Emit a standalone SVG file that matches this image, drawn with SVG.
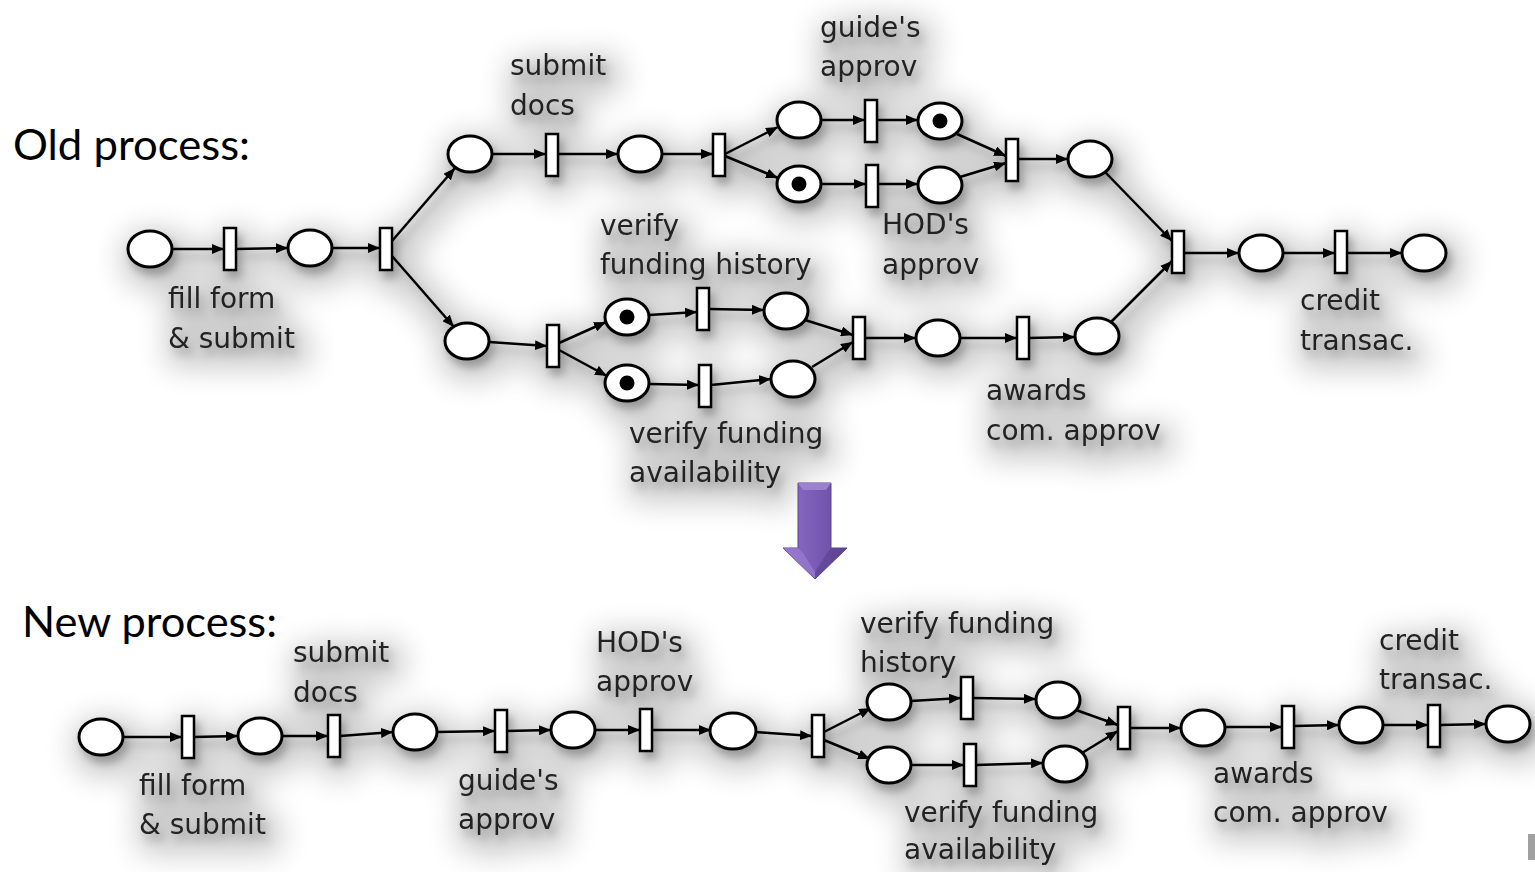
<svg xmlns="http://www.w3.org/2000/svg" width="1535" height="872" viewBox="0 0 1535 872">
  <defs>
    <marker id="ah" markerUnits="userSpaceOnUse" markerWidth="13" markerHeight="10" refX="12" refY="5" orient="auto">
      <path d="M0,0 L12,5 L0,10 z" fill="#000"/>
    </marker>
    <!-- soft grey drop haze under each net -->
    <filter id="soft" x="-5%" y="-30%" width="112%" height="160%">
      <feGaussianBlur in="SourceAlpha" stdDeviation="4" result="b1"/>
      <feOffset in="b1" dx="4" dy="7" result="o1"/>
      <feComponentTransfer in="o1" result="s1">
        <feFuncA type="linear" slope="0.25"/>
      </feComponentTransfer>
      <feMorphology in="SourceAlpha" operator="dilate" radius="9" result="d2"/>
      <feGaussianBlur in="d2" stdDeviation="15" result="b2"/>
      <feOffset in="b2" dx="6" dy="10" result="o2"/>
      <feComponentTransfer in="o2" result="s2">
        <feFuncA type="linear" slope="0.22"/>
      </feComponentTransfer>
      <feMerge>
        <feMergeNode in="s2"/>
        <feMergeNode in="s1"/>
        <feMergeNode in="SourceGraphic"/>
      </feMerge>
    </filter>
    <linearGradient id="purple" x1="0" y1="0" x2="1" y2="0">
      <stop offset="0" stop-color="#8f70c9"/>
      <stop offset="0.5" stop-color="#7a5bb5"/>
      <stop offset="1" stop-color="#6a4b9f"/>
    </linearGradient>
    <style>
      .pl { fill: #fff; stroke: #000; stroke-width: 3; }
      .tr { fill: #fff; stroke: #000; stroke-width: 2.5; }
      .tk { fill: #000; }
      .arc { stroke: #000; stroke-width: 2.5; fill: none; marker-end: url(#ah); }
      .lbl { font-family: "DejaVu Sans", Verdana, sans-serif; font-size: 28px; fill: #222; }
      .head { font-family: Lato, "Liberation Sans", sans-serif; font-size: 42px; fill: #000; }
    </style>
  </defs>

  <rect width="1535" height="872" fill="#fff"/>

  <text class="head" x="13" y="160" textLength="237" lengthAdjust="spacingAndGlyphs">Old process:</text>
  <text class="head" x="22" y="637" textLength="255" lengthAdjust="spacingAndGlyphs">New process:</text>

  <!-- ===================== OLD PROCESS ===================== -->
  <g id="old-process" filter="url(#soft)">
    <g id="old-connectors">
      <line class="arc" x1="172" y1="249" x2="224" y2="249"/>
      <line class="arc" x1="236" y1="249" x2="288" y2="248"/>
      <line class="arc" x1="332" y1="248" x2="380" y2="248"/>
      <line class="arc" x1="392" y1="241" x2="455" y2="168"/>
      <line class="arc" x1="392" y1="256" x2="454" y2="327"/>
      <line class="arc" x1="492" y1="154" x2="546" y2="154"/>
      <line class="arc" x1="558" y1="154" x2="618" y2="154"/>
      <line class="arc" x1="662" y1="154" x2="713" y2="154"/>
      <line class="arc" x1="725" y1="154" x2="778" y2="127"/>
      <line class="arc" x1="725" y1="156" x2="778" y2="178"/>
      <line class="arc" x1="821" y1="120" x2="865" y2="120"/>
      <line class="arc" x1="877" y1="120" x2="918" y2="120"/>
      <line class="arc" x1="821" y1="184" x2="866" y2="184"/>
      <line class="arc" x1="878" y1="184" x2="918" y2="184"/>
      <line class="arc" x1="957" y1="134" x2="1006" y2="156"/>
      <line class="arc" x1="960" y1="177" x2="1006" y2="163"/>
      <line class="arc" x1="1018" y1="159" x2="1068" y2="159"/>
      <line class="arc" x1="1105" y1="172" x2="1172" y2="241"/>
      <line class="arc" x1="489" y1="342" x2="547" y2="346"/>
      <line class="arc" x1="559" y1="343" x2="606" y2="322"/>
      <line class="arc" x1="559" y1="350" x2="607" y2="376"/>
      <line class="arc" x1="649" y1="315" x2="697" y2="312"/>
      <line class="arc" x1="709" y1="309" x2="764" y2="310"/>
      <line class="arc" x1="649" y1="384" x2="699" y2="385"/>
      <line class="arc" x1="711" y1="385" x2="771" y2="379"/>
      <line class="arc" x1="805" y1="320" x2="853" y2="335"/>
      <line class="arc" x1="812" y1="367" x2="853" y2="342"/>
      <line class="arc" x1="865" y1="338" x2="916" y2="338"/>
      <line class="arc" x1="960" y1="338" x2="1017" y2="338"/>
      <line class="arc" x1="1029" y1="338" x2="1075" y2="337"/>
      <line class="arc" x1="1111" y1="322" x2="1172" y2="261"/>
      <line class="arc" x1="1184" y1="253" x2="1239" y2="253"/>
      <line class="arc" x1="1283" y1="253" x2="1335" y2="253"/>
      <line class="arc" x1="1347" y1="253" x2="1402" y2="253"/>
    </g>

    <!-- places -->
    <g id="op1"><ellipse class="pl" cx="150" cy="249" rx="22" ry="18"/></g>
    <g id="op2"><ellipse class="pl" cx="310" cy="248" rx="22" ry="18"/></g>
    <g id="op3"><ellipse class="pl" cx="470" cy="154" rx="22" ry="18"/></g>
    <g id="op4"><ellipse class="pl" cx="467" cy="341" rx="22" ry="18"/></g>
    <g id="op5"><ellipse class="pl" cx="640" cy="154" rx="22" ry="18"/></g>
    <g id="op6"><ellipse class="pl" cx="799" cy="120" rx="22" ry="18"/></g>
    <g id="op7"><ellipse class="pl" cx="799" cy="184" rx="22" ry="18"/><circle class="tk" cx="799" cy="184" r="7.5"/></g>
    <g id="op8"><ellipse class="pl" cx="940" cy="121" rx="22" ry="18"/><circle class="tk" cx="940" cy="121" r="7.5"/></g>
    <g id="op9"><ellipse class="pl" cx="940" cy="185" rx="22" ry="18"/></g>
    <g id="op10"><ellipse class="pl" cx="1090" cy="159" rx="22" ry="18"/></g>
    <g id="op11"><ellipse class="pl" cx="627" cy="317" rx="22" ry="18"/><circle class="tk" cx="627" cy="317" r="7.5"/></g>
    <g id="op12"><ellipse class="pl" cx="627" cy="383" rx="22" ry="18"/><circle class="tk" cx="627" cy="383" r="7.5"/></g>
    <g id="op13"><ellipse class="pl" cx="786" cy="311" rx="22" ry="18"/></g>
    <g id="op14"><ellipse class="pl" cx="793" cy="379" rx="22" ry="18"/></g>
    <g id="op15"><ellipse class="pl" cx="938" cy="338" rx="22" ry="18"/></g>
    <g id="op16"><ellipse class="pl" cx="1097" cy="336" rx="22" ry="18"/></g>
    <g id="op17"><ellipse class="pl" cx="1261" cy="253" rx="22" ry="18"/></g>
    <g id="op18"><ellipse class="pl" cx="1424" cy="253" rx="22" ry="18"/></g>

    <!-- transitions -->
    <g id="ot1"><rect class="tr" x="224" y="228" width="12" height="42"/></g>
    <g id="ot2"><rect class="tr" x="380" y="228" width="12" height="42"/></g>
    <g id="ot3"><rect class="tr" x="546" y="134" width="12" height="42"/></g>
    <g id="ot4"><rect class="tr" x="713" y="134" width="12" height="42"/></g>
    <g id="ot5"><rect class="tr" x="865" y="100" width="12" height="42"/></g>
    <g id="ot6"><rect class="tr" x="866" y="165" width="12" height="42"/></g>
    <g id="ot7"><rect class="tr" x="1006" y="139" width="12" height="42"/></g>
    <g id="ot8"><rect class="tr" x="547" y="325" width="12" height="42"/></g>
    <g id="ot9"><rect class="tr" x="697" y="288" width="12" height="42"/></g>
    <g id="ot10"><rect class="tr" x="699" y="365" width="12" height="42"/></g>
    <g id="ot11"><rect class="tr" x="853" y="317" width="12" height="42"/></g>
    <g id="ot12"><rect class="tr" x="1017" y="317" width="12" height="42"/></g>
    <g id="ot13"><rect class="tr" x="1172" y="231" width="12" height="42"/></g>
    <g id="ot14"><rect class="tr" x="1335" y="231" width="12" height="42"/></g>

    <!-- labels -->
    <text class="lbl" x="168" y="308">fill form</text>
    <text class="lbl" x="168" y="348">&amp; submit</text>
    <text class="lbl" x="510" y="75">submit</text>
    <text class="lbl" x="510" y="115">docs</text>
    <text class="lbl" x="820" y="37">guide's</text>
    <text class="lbl" x="820" y="76">approv</text>
    <text class="lbl" x="600" y="235">verify</text>
    <text class="lbl" x="600" y="274">funding history</text>
    <text class="lbl" x="882" y="234">HOD's</text>
    <text class="lbl" x="882" y="274">approv</text>
    <text class="lbl" x="629" y="443">verify funding</text>
    <text class="lbl" x="629" y="482">availability</text>
    <text class="lbl" x="986" y="400">awards</text>
    <text class="lbl" x="986" y="440">com. approv</text>
    <text class="lbl" x="1300" y="310">credit</text>
    <text class="lbl" x="1300" y="350">transac.</text>
  </g>

  <!-- ===================== TRANSFORMATION ARROW ===================== -->
  <g id="down-arrow">
    <polygon points="798,483 831,483 831,548 847,548 815,579 783,548 798,548" fill="url(#purple)" stroke="#5e4290" stroke-width="1"/>
    <polygon points="798,483 831,483 826,490 803,490" fill="#a58bd6" opacity="0.8"/>
    <polygon points="783,548 798,548 803,553 815,572 815,579" fill="#9a7ed0" opacity="0.7"/>
    <polygon points="847,548 831,548 827,553 815,572 815,579" fill="#5a3f8c" opacity="0.6"/>
  </g>

  <!-- ===================== NEW PROCESS ===================== -->
  <g id="new-process" filter="url(#soft)">
    <g id="new-connectors">
      <line class="arc" x1="123" y1="737" x2="182" y2="737"/>
      <line class="arc" x1="194" y1="737" x2="238" y2="736"/>
      <line class="arc" x1="282" y1="736" x2="328" y2="736"/>
      <line class="arc" x1="340" y1="736" x2="393" y2="732"/>
      <line class="arc" x1="437" y1="732" x2="495" y2="731"/>
      <line class="arc" x1="507" y1="731" x2="551" y2="730"/>
      <line class="arc" x1="595" y1="730" x2="640" y2="730"/>
      <line class="arc" x1="652" y1="730" x2="711" y2="730"/>
      <line class="arc" x1="755" y1="732" x2="812" y2="736"/>
      <line class="arc" x1="824" y1="732" x2="871" y2="708"/>
      <line class="arc" x1="824" y1="740" x2="870" y2="759"/>
      <line class="arc" x1="911" y1="701" x2="961" y2="698"/>
      <line class="arc" x1="973" y1="698" x2="1036" y2="699"/>
      <line class="arc" x1="911" y1="765" x2="964" y2="765"/>
      <line class="arc" x1="976" y1="765" x2="1043" y2="763"/>
      <line class="arc" x1="1076" y1="710" x2="1118" y2="725"/>
      <line class="arc" x1="1082" y1="753" x2="1118" y2="731"/>
      <line class="arc" x1="1130" y1="728" x2="1181" y2="728"/>
      <line class="arc" x1="1225" y1="727" x2="1282" y2="727"/>
      <line class="arc" x1="1294" y1="726" x2="1339" y2="725"/>
      <line class="arc" x1="1383" y1="725" x2="1428" y2="725"/>
      <line class="arc" x1="1440" y1="725" x2="1486" y2="724"/>
    </g>

    <!-- places -->
    <g id="np1"><ellipse class="pl" cx="101" cy="737" rx="22" ry="18"/></g>
    <g id="np2"><ellipse class="pl" cx="260" cy="736" rx="22" ry="18"/></g>
    <g id="np3"><ellipse class="pl" cx="415" cy="732" rx="22" ry="18"/></g>
    <g id="np4"><ellipse class="pl" cx="573" cy="730" rx="22" ry="18"/></g>
    <g id="np5"><ellipse class="pl" cx="733" cy="731" rx="23" ry="18"/></g>
    <g id="np6"><ellipse class="pl" cx="889" cy="702" rx="22" ry="18"/></g>
    <g id="np7"><ellipse class="pl" cx="889" cy="765" rx="22" ry="18"/></g>
    <g id="np8"><ellipse class="pl" cx="1058" cy="700" rx="22" ry="18"/></g>
    <g id="np9"><ellipse class="pl" cx="1065" cy="764" rx="22" ry="18"/></g>
    <g id="np10"><ellipse class="pl" cx="1203" cy="728" rx="22" ry="18"/></g>
    <g id="np11"><ellipse class="pl" cx="1361" cy="725" rx="22" ry="18"/></g>
    <g id="np12"><ellipse class="pl" cx="1508" cy="724" rx="22" ry="18"/></g>

    <!-- transitions -->
    <g id="nt1"><rect class="tr" x="182" y="716" width="12" height="42"/></g>
    <g id="nt2"><rect class="tr" x="328" y="715" width="12" height="42"/></g>
    <g id="nt3"><rect class="tr" x="495" y="710" width="12" height="42"/></g>
    <g id="nt4"><rect class="tr" x="640" y="709" width="12" height="42"/></g>
    <g id="nt5"><rect class="tr" x="812" y="715" width="12" height="42"/></g>
    <g id="nt6"><rect class="tr" x="961" y="677" width="12" height="42"/></g>
    <g id="nt7"><rect class="tr" x="964" y="744" width="12" height="42"/></g>
    <g id="nt8"><rect class="tr" x="1118" y="707" width="12" height="42"/></g>
    <g id="nt9"><rect class="tr" x="1282" y="706" width="12" height="42"/></g>
    <g id="nt10"><rect class="tr" x="1428" y="705" width="12" height="42"/></g>

    <!-- labels -->
    <text class="lbl" x="139" y="795">fill form</text>
    <text class="lbl" x="139" y="834">&amp; submit</text>
    <text class="lbl" x="293" y="662">submit</text>
    <text class="lbl" x="293" y="702">docs</text>
    <text class="lbl" x="458" y="790">guide's</text>
    <text class="lbl" x="458" y="829">approv</text>
    <text class="lbl" x="596" y="652">HOD's</text>
    <text class="lbl" x="596" y="691">approv</text>
    <text class="lbl" x="860" y="633">verify funding</text>
    <text class="lbl" x="860" y="672">history</text>
    <text class="lbl" x="904" y="822">verify funding</text>
    <text class="lbl" x="904" y="859">availability</text>
    <text class="lbl" x="1213" y="783">awards</text>
    <text class="lbl" x="1213" y="822">com. approv</text>
    <text class="lbl" x="1379" y="650">credit</text>
    <text class="lbl" x="1379" y="689">transac.</text>
  </g>

  <rect x="1528" y="834" width="7" height="26" fill="#777" opacity="0.7"/>
</svg>
